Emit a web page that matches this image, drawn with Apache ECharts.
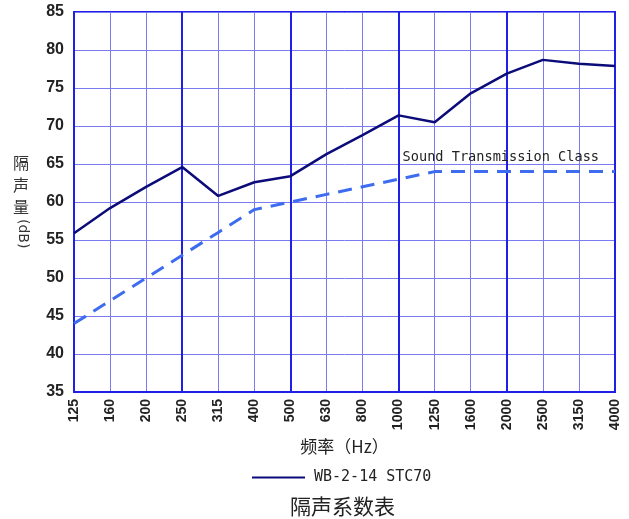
<!DOCTYPE html>
<html><head><meta charset="utf-8">
<script src="https://cdn.jsdelivr.net/npm/echarts@6/dist/echarts.min.js"></script>
<style>html,body{margin:0;padding:0;background:#fff}#c{width:629px;height:519px}</style>
</head><body><div id="c"></div>
<script>
const categories = ['125','160','200','250','315','400','500','630','800','1000','1250','1600','2000','2500','3150','4000'];
const wbValues = [55.9, 59.2, 62.0, 64.6, 60.8, 62.6, 63.4, 66.3, 68.8, 71.4, 70.5, 74.3, 76.9, 78.7, 78.2, 77.9];
const stcValues = [44, 47, 50, 53, 56, 59, 60, 61, 62, 63, 64, 64, 64, 64, 64, 64];
const yTicks = { min: 35, max: 85, interval: 5 };
const seriesName = 'WB-2-14 STC70';
const stcLabel = 'Sound Transmission Class';
const xName = '频率（Hz）';
const titleText = '隔声系数表';

const chart = echarts.init(document.getElementById('c'));
const thick = '#1f1fe6';
const thin = '#7a7af2';
chart.setOption({
  animation: false,
  grid: { left: 74, right: 14, top: 12, bottom: 127, show: true, borderColor: thick, borderWidth: 2 },
  legend: {
    data: [seriesName], top: 470, left: 252, icon: 'rect', itemWidth: 53, itemHeight: 2,
    itemGap: 6, padding: 0,
    textStyle: { fontFamily: 'DejaVu Sans Mono', fontSize: 15, color: '#222', padding: [0, 0, 0, 4] }
  },
  title: {
    text: titleText, left: 290, top: 496, padding: 0,
    textStyle: { fontFamily: 'Noto Sans CJK SC', fontSize: 21, fontWeight: 'normal', color: '#222' }
  },
  xAxis: [{
    type: 'category', data: categories, boundaryGap: false,
    axisLine: { lineStyle: { color: thick, width: 2 } },
    axisTick: { show: false },
    axisLabel: { rotate: 90, interval: 0, fontFamily: 'Liberation Sans', fontWeight: 'bold', fontSize: 14, color: '#222', margin: 7 },
    splitLine: { show: true, interval: 0, lineStyle: { color: thin, width: 1 } },
    name: xName, nameLocation: 'middle', nameGap: 42,
    nameTextStyle: { fontFamily: 'Noto Sans CJK SC', fontSize: 17, color: '#222' }
  }, {
    type: 'category', data: categories, boundaryGap: false, position: 'top',
    axisLine: { show: false }, axisTick: { show: false }, axisLabel: { show: false },
    splitLine: { show: true, interval: 2, lineStyle: { color: thick, width: 2 } }
  }],
  yAxis: {
    type: 'value', min: yTicks.min, max: yTicks.max, interval: yTicks.interval,
    axisLine: { show: true, lineStyle: { color: thick, width: 2 } },
    axisTick: { show: false },
    axisLabel: { fontFamily: 'Liberation Sans', fontWeight: 'bold', fontSize: 16, color: '#222', margin: 10 },
    splitLine: { show: true, lineStyle: { color: thin, width: 1 } }
  },
  series: [{
    name: seriesName, type: 'line', data: wbValues, symbol: 'none',
    lineStyle: { color: '#0b0b7a', width: 2.5 }, itemStyle: { color: '#0b0b7a' }, z: 4
  }, {
    name: stcLabel, type: 'line', data: stcValues, symbol: 'none',
    lineStyle: { color: '#3d6cf0', width: 3, type: [14, 9] }, z: 3
  }]
});
const labelPos = chart.convertToPixel({ xAxisIndex: 0, yAxisIndex: 0 }, ['1000', 65.9]);
chart.setOption({
  graphic: [
    { type: 'text', left: 13, top: 152, style: { text: '隔\n声\n量', font: '16px "Noto Sans CJK SC"', fill: '#333', lineHeight: 22 } },
    { type: 'text', x: 30, y: 219, rotation: -Math.PI / 2, style: { text: '(dB)', font: '14px "DejaVu Sans"', fill: '#333' } },
    { type: 'text', x: labelPos[0] + 4, y: labelPos[1], style: { text: stcLabel, font: '13.6px "DejaVu Sans Mono"', fill: '#222', verticalAlign: 'middle' } }
  ]
});
</script></body></html>
